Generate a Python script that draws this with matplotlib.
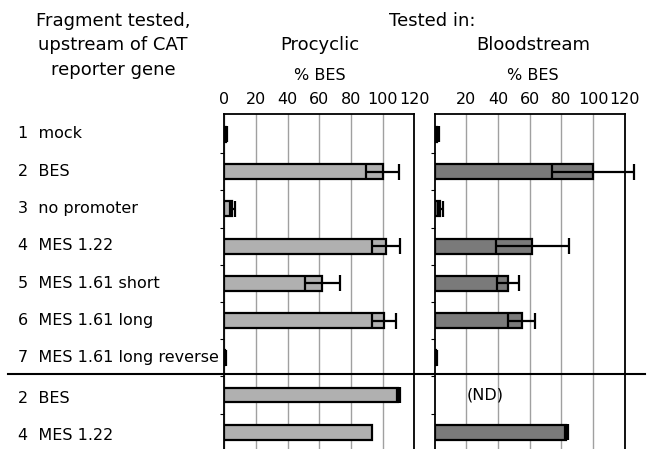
import matplotlib
matplotlib.use("Agg")
import matplotlib.pyplot as plt
from matplotlib.lines import Line2D
import numpy as np

# ---- data ----
row_labels = ["1  mock", "2  BES", "3  no promoter", "4  MES 1.22", "5  MES 1.61 short",
              "6  MES 1.61 long", "7  MES 1.61 long reverse", "2  BES", "4  MES 1.22"]
procyclic = [1.0, 100, 5.0, 102, 62, 101, 0.5, 110, 93]
procyclic_err = [0.8, 10.5, 1.5, 9, 11, 7.5, 0.3, 1.0, 0.0]
bloodstream = [1.5, 100, 3.5, 61.5, 46, 55, 1.0, np.nan, 83]
bloodstream_err = [1.0, 26, 1.5, 23, 7, 8.5, 0.5, np.nan, 1.0]
ticks_left = [0, 20, 40, 60, 80, 100, 120]
ticks_right = [20, 40, 60, 80, 100, 120]

W, H = 650, 449
fig = plt.figure(figsize=(W / 100, H / 100), dpi=100)
fig.patch.set_facecolor("white")
FS = 11.5

def px(x0, y0, x1, y1):
    return [x0 / W, 1 - y1 / H, (x1 - x0) / W, (y1 - y0) / H]

ax1 = fig.add_axes(px(224.3, 114, 414.3, 449))
ax2 = fig.add_axes(px(434.8, 114, 624.8, 449))

y = np.arange(len(row_labels))
bh = 0.4

def draw(ax, vals, errs, color, ticks):
    vals = np.array(vals, float)
    errs = np.array(errs, float)
    ax.set_xlim(0, 120)
    ax.set_ylim(len(row_labels) - 0.55, -0.55)
    ax.set_axisbelow(True)
    ax.xaxis.grid(True, color="#a0a0a0", lw=1.0)
    ax.set_xticks(ticks)
    ax.tick_params(axis="x", which="both", top=True, bottom=False, labeltop=True,
                   labelbottom=False, length=0, pad=5, labelsize=FS)
    ax.set_yticks([])
    ax.set_yticks(np.arange(0.5, len(row_labels) - 1, 1.0), minor=True)
    ax.tick_params(axis="y", which="minor", left=True, length=3, width=0.8, direction="out")
    for s in ["top", "left", "right"]:
        ax.spines[s].set_linewidth(1.3)
        ax.spines[s].set_color("black")
    ax.spines["bottom"].set_visible(False)
    m = ~np.isnan(vals)
    ax.barh(y[m], vals[m], height=bh, color=color, edgecolor="black", linewidth=1.6, zorder=3)
    me = m & (errs > 0)
    eb = ax.errorbar(vals[me], y[me], xerr=errs[me], fmt="none", ecolor="black",
                     elinewidth=1.6, capsize=6, capthick=1.6, zorder=4)
    for art in eb.lines[1] + eb.lines[2]:
        art.set_clip_on(False)
    ax.vlines(vals[me] - errs[me], y[me] - bh / 2, y[me] + bh / 2, colors="black",
              lw=1.4, zorder=4)

draw(ax1, procyclic, procyclic_err, "#b0b0b0", ticks_left)
draw(ax2, bloodstream, bloodstream_err, "#7a7a7a", ticks_right)

for i, v in enumerate(bloodstream):
    if np.isnan(v):
        ax2.text(32, y[i], "(ND)", fontsize=FS, ha="center", va="center")

# row labels
for i, lab in enumerate(row_labels):
    fig.text(18 / W, 1 - (134 + i * 37.3 + (3 if i > 6 else 0)) / H, lab,
             fontsize=FS, ha="left", va="center")

# divider line
fig.add_artist(Line2D([8 / W, 645 / W], [1 - 373.5 / H] * 2, color="black", lw=1.5))

# headers
HF = 13
for k, t in enumerate(["Fragment tested,", "upstream of CAT", "reporter gene"]):
    fig.text(113 / W, 1 - (21 + k * 24.5) / H, t, fontsize=HF, ha="center", va="center")
fig.text(432 / W, 1 - 21 / H, "Tested in:", fontsize=HF, ha="center", va="center")
fig.text(320 / W, 1 - 45.5 / H, "Procyclic", fontsize=HF, ha="center", va="center")
fig.text(533 / W, 1 - 45.5 / H, "Bloodstream", fontsize=HF, ha="center", va="center")
fig.text(320 / W, 1 - 75 / H, "% BES", fontsize=FS, ha="center", va="center")
fig.text(533 / W, 1 - 75 / H, "% BES", fontsize=FS, ha="center", va="center")

fig.savefig("out.png", dpi=100)
